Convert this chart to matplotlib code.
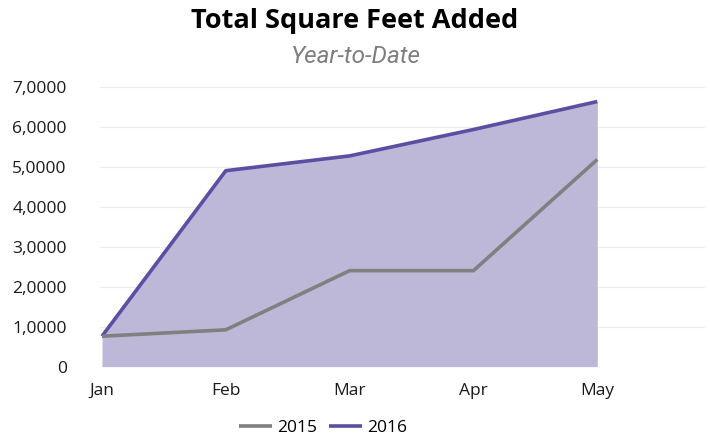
import matplotlib.pyplot as plt

months = ['Jan', 'Feb', 'Mar', 'Apr', 'May']
sqft_2015 = [760, 920, 2400, 2400, 5180]
sqft_2016 = [760, 4900, 5270, 5930, 6630]
ytick_values = [0, 1000, 2000, 3000, 4000, 5000, 6000, 7000]
ytick_labels = ['0', '1,0000', '2,0000', '3,0000', '4,0000', '5,0000', '6,0000', '7,0000']

fam = ['Open Sans', 'DejaVu Sans']

fig = plt.figure(figsize=(7.1, 4.38), dpi=100)
ax = fig.add_axes([0.141, 0.163, 0.852, 0.639])

x = list(range(len(months)))
ax.fill_between(x, sqft_2016, 0, color='#bdb8d8', linewidth=0, zorder=1)
ax.plot(x, sqft_2016, color='#5a4fa3', linewidth=2.6, label='2016', zorder=3,
        solid_capstyle='butt')
ax.plot(x, sqft_2015, color='#808080', linewidth=2.6, label='2015', zorder=4,
        solid_capstyle='butt')

ax.set_xlim(-0.015, 4.87)
ax.set_ylim(0, 7000)
ax.set_xticks(x)
ax.set_xticklabels(months, family=fam, fontsize=12.5, color='#1a1a1a')
ax.set_yticks(ytick_values)
ax.set_yticklabels(ytick_labels, family=fam, fontsize=12.5, color='#1a1a1a')
ax.tick_params(axis='both', length=0)
ax.tick_params(axis='x', pad=12)
ax.tick_params(axis='y', pad=24)
ax.grid(axis='y', color='#ececec', linewidth=0.8, zorder=0)
ax.set_axisbelow(True)
for s in ax.spines.values():
    s.set_visible(False)

fig.text(0.5, 0.952, 'Total Square Feet Added', ha='center', va='center',
         family=fam, fontsize=19.5, fontweight='bold', color='black')
fig.text(0.5, 0.872, 'Year-to-Date', ha='center', va='center',
         family=['Roboto', 'DejaVu Sans'], fontsize=17.5, style='italic',
         color='#7f7f7f')

h, l = ax.get_legend_handles_labels()
leg = fig.legend(h[::-1], l[::-1], loc='center', bbox_to_anchor=(0.455, 0.022),
                 ncol=2, frameon=False, handlelength=1.9, handletextpad=0.3,
                 columnspacing=0.7, prop={'family': fam, 'size': 12.5})

plt.savefig('out.png', dpi=100)
